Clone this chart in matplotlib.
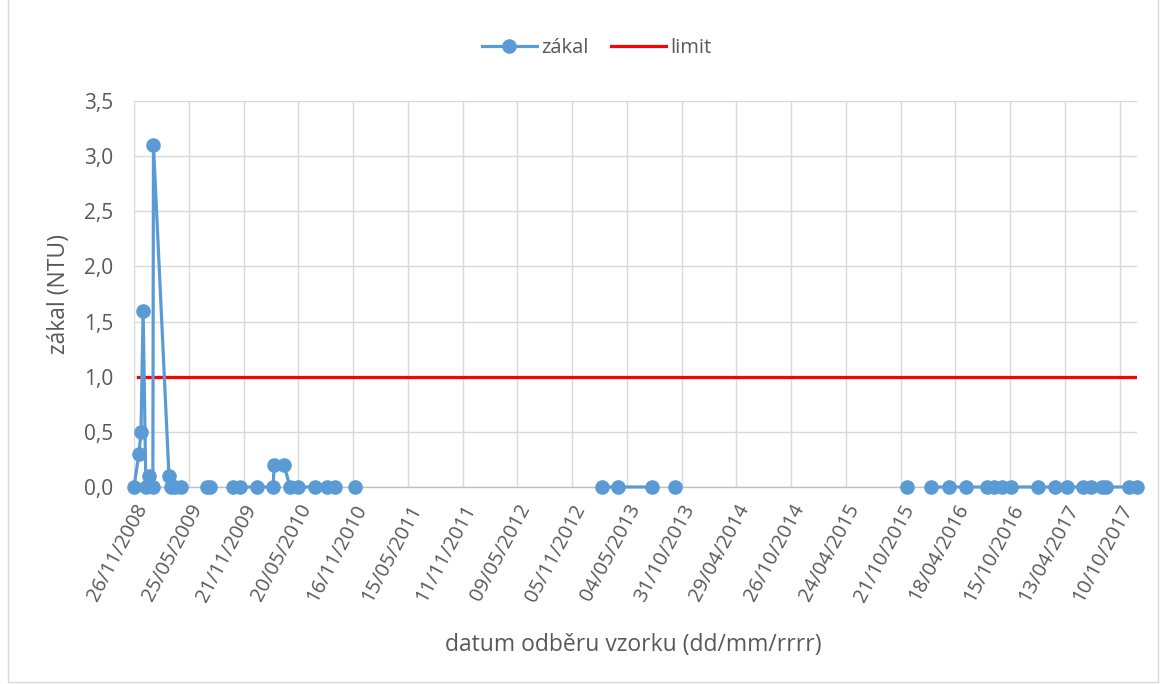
import matplotlib
matplotlib.use('Agg')
import matplotlib.pyplot as plt
import matplotlib.dates as mdates
from matplotlib.patches import Rectangle
from matplotlib.lines import Line2D
import numpy as np
from datetime import datetime

# ---- data ----
sample_dates = [
    '2008-11-26', '2008-12-12', '2008-12-19', '2008-12-26', '2009-01-04', '2009-01-14',
    '2009-01-27', '2009-01-29', '2009-03-21', '2009-03-28', '2009-04-10', '2009-04-30',
    '2009-06-15',
    '2009-07-24', '2009-08-03',
    '2009-09-10',
    '2009-10-18', '2009-11-10', '2010-01-05', '2010-02-26', '2010-03-02', '2010-04-03',
    '2010-04-23', '2010-05-20', '2010-07-14', '2010-08-23', '2010-09-18',
    '2010-10-20',
    '2010-11-23',
    '2011-06-01',
    '2013-02-13', '2013-04-06', '2013-07-27',
    '2013-09-01',
    '2013-10-08',
    '2014-12-01',
    '2015-11-10',
    '2015-12-20',
    '2016-01-28', '2016-03-27', '2016-05-22', '2016-07-30', '2016-08-22', '2016-09-17',
    '2016-10-17', '2017-01-14', '2017-03-11', '2017-04-19', '2017-06-11', '2017-07-07',
    '2017-08-12', '2017-08-26', '2017-11-09', '2017-12-06',
]
zakal = [
    0.0, 0.3, 0.5, 1.6, 0.0, 0.1,
    0.0, 3.1, 0.1, 0.0, 0.0, 0.0,
    None,
    0.0, 0.0,
    None,
    0.0, 0.0, 0.0, 0.0, 0.2, 0.2,
    0.0, 0.0, 0.0, 0.0, 0.0,
    None,
    0.0,
    None,
    0.0, 0.0, 0.0,
    None,
    0.0,
    None,
    0.0,
    None,
    0.0, 0.0, 0.0, 0.0, 0.0, 0.0,
    0.0, 0.0, 0.0, 0.0, 0.0, 0.0,
    0.0, 0.0, 0.0, 0.0,
]
limit_dates = ['2008-12-08', '2017-12-06']
limit_vals = [1.0, 1.0]

tick_labels = ['26/11/2008', '25/05/2009', '21/11/2009', '20/05/2010', '16/11/2010',
               '15/05/2011', '11/11/2011', '09/05/2012', '05/11/2012', '04/05/2013',
               '31/10/2013', '29/04/2014', '26/10/2014', '24/04/2015', '21/10/2015',
               '18/04/2016', '15/10/2016', '13/04/2017', '10/10/2017']
y_ticks = [0.0, 0.5, 1.0, 1.5, 2.0, 2.5, 3.0, 3.5]

series_name = 'zákal'
limit_name = 'limit'
x_title = 'datum odběru vzorku (dd/mm/rrrr)'
y_title = 'zákal (NTU)'

# ---- style ----
plt.rcParams['font.family'] = ['Open Sans', 'DejaVu Sans']
txt = '#595959'
grid_c = '#d9d9d9'
blue = '#5B9BD5'
red = '#FF0000'

fig = plt.figure(figsize=(11.69, 6.84), dpi=100)
fig.patches.append(Rectangle((8/1169, 2/684), 1150/1169, 690/684, transform=fig.transFigure,
                             fill=False, edgecolor=grid_c, linewidth=1.0))
ax = fig.add_axes([134/1169, 1 - 487/684, (1137 - 134)/1169, (487 - 101)/684])

xd = [mdates.date2num(datetime.strptime(d, '%Y-%m-%d')) for d in sample_dates]
yv = np.array([np.nan if v is None else v for v in zakal], dtype=float)
ld = [mdates.date2num(datetime.strptime(d, '%Y-%m-%d')) for d in limit_dates]
tk = [mdates.date2num(datetime.strptime(t, '%d/%m/%Y')) for t in tick_labels]

ax.plot(xd, yv, color=blue, linewidth=2.3, marker='o', markersize=9.5,
        markerfacecolor=blue, markeredgecolor=blue, clip_on=False, zorder=4)
ax.plot(ld, limit_vals, color=red, linewidth=2.3, zorder=3)

ax.set_xlim(tk[0], xd[-1])
ax.set_ylim(0, 3.5)
ax.set_xticks(tk)
ax.set_xticklabels(tick_labels, rotation=62, ha='right', rotation_mode='anchor',
                   fontsize=14.5, color=txt)
ax.set_yticks(y_ticks)
ax.set_yticklabels([f'{v:.1f}'.replace('.', ',') for v in y_ticks], fontsize=15, color=txt)
ax.tick_params(axis='y', length=0, pad=15)
ax.tick_params(axis='x', length=0, pad=10)

ax.grid(True, color=grid_c, linewidth=1.0, zorder=0)
ax.set_axisbelow(True)
for s in ['top', 'right', 'left']:
    ax.spines[s].set_visible(False)
ax.spines['bottom'].set_color('#bfbfbf')
ax.spines['bottom'].set_linewidth(1.0)

ax.set_xlabel(x_title, fontsize=16.5, color=txt)
ax.set_ylabel(y_title, fontsize=16.5, color=txt)
ax.xaxis.set_label_coords((633 - 134)/1003, (487 - 645)/386)
ax.yaxis.set_label_coords((59 - 134)/1003, 0.5)
ax.xaxis.label.set_va('center')
ax.yaxis.label.set_va('center')

handles = [Line2D([0], [0], color=blue, linewidth=2.3, marker='o', markersize=9.5),
           Line2D([0], [0], color=red, linewidth=2.3)]
leg = fig.legend(handles, [series_name, limit_name], loc='center', bbox_to_anchor=(597/1169, 1 - 48/684),
                 ncol=2, frameon=False, fontsize=14.5, handlelength=2.7, columnspacing=1.1,
                 handletextpad=0.25)
for t in leg.get_texts():
    t.set_color(txt)

fig.savefig('out.png', dpi=100)
